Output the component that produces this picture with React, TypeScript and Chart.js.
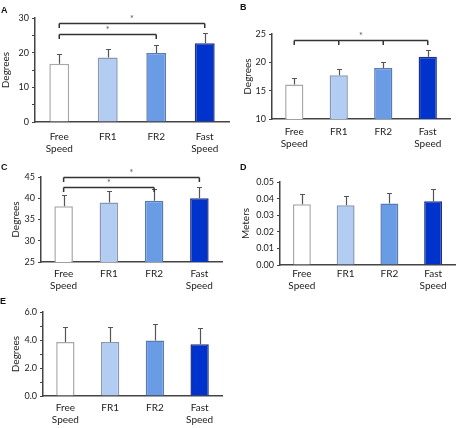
import React, { useEffect, useRef } from "react";
import { Chart, registerables } from "chart.js";

Chart.register(...registerables);

const categories: (string | string[])[] = [["Free", "Speed"], "FR1", "FR2", ["Fast", "Speed"]];

const barFills = ["#ffffff", "#b3cdf2", "#6a9ce6", "#0033cc"];
const barBorders = ["#a8a8a8", "#8898b4", "#5a7ab4", "#1c3088"];

// Panel A – Degrees
const meansA = [16.8, 18.6, 19.9, 22.7];
const errA = [2.8, 2.6, 2.4, 3.1];
const bracketsA = [
  { from: 0, to: 3, value: 28.6, ticks: [0, 3] },
  { from: 0, to: 2, value: 25.5, ticks: [0, 2] },
];

// Panel B – Degrees
const meansB = [16.1, 17.7, 19.0, 21.0];
const errB = [1.2, 1.1, 1.0, 1.2];
const bracketsB = [{ from: 0, to: 3, value: 24.0, ticks: [0, 1, 2, 3] }];

// Panel C – Degrees
const meansC = [38.1, 39.0, 39.4, 40.0];
const errC = [2.6, 2.7, 2.8, 2.7];
const bracketsC = [
  { from: 0, to: 3, value: 45.1, ticks: [0, 3] },
  { from: 0, to: 2, value: 42.6, ticks: [0, 2] },
];

// Panel D – Meters
const meansD = [0.0366, 0.036, 0.037, 0.0384];
const errD = [0.0064, 0.0056, 0.0066, 0.0072];

// Panel E – Degrees
const meansE = [3.86, 3.86, 3.96, 3.7];
const errE = [1.07, 1.07, 1.21, 1.18];

type Bracket = { from: number; to: number; value: number; ticks: number[] };

type PanelCfg = {
  letter: string;
  letterX: number;
  letterY: number;
  left: number;
  top: number;
  w: number;
  h: number;
  padTop: number;
  padRight: number;
  yWidth: number;
  xHeight: number;
  xPad: number;
  titlePad: number;
  title: string;
  min: number;
  max: number;
  step: number;
  labelStep: number;
  decimals: number;
  means: number[];
  errs: number[];
  brackets: Bracket[];
};

const FONT = "Lato, 'Liberation Sans', sans-serif";

const panels: PanelCfg[] = [
  {
    letter: "A", letterX: 1, letterY: 5,
    left: 0, top: 0, w: 232, h: 160, padTop: 18, padRight: 3, yWidth: 35, xHeight: 38, xPad: 9, titlePad: 0,
    title: "Degrees", min: 0, max: 30, step: 5, labelStep: 10, decimals: 0,
    means: meansA, errs: errA, brackets: bracketsA,
  },
  {
    letter: "B", letterX: 240, letterY: 2,
    left: 228, top: 0, w: 228, h: 160, padTop: 34, padRight: 6, yWidth: 44, xHeight: 41, xPad: 7, titlePad: 14,
    title: "Degrees", min: 10, max: 25, step: 5, labelStep: 5, decimals: 0,
    means: meansB, errs: errB, brackets: bracketsB,
  },
  {
    letter: "C", letterX: 1, letterY: 162,
    left: 0, top: 145, w: 232, h: 148, padTop: 32, padRight: 10, yWidth: 41, xHeight: 31, xPad: 6, titlePad: 10,
    title: "Degrees", min: 25, max: 45, step: 5, labelStep: 5, decimals: 0,
    means: meansC, errs: errC, brackets: bracketsC,
  },
  {
    letter: "D", letterX: 240, letterY: 162,
    left: 228, top: 145, w: 228, h: 148, padTop: 37, padRight: 1, yWidth: 52, xHeight: 28, xPad: 3, titlePad: 12,
    title: "Meters", min: 0, max: 0.05, step: 0.01, labelStep: 0.01, decimals: 2,
    means: meansD, errs: errD, brackets: [],
  },
  {
    letter: "E", letterX: 0, letterY: 296,
    left: 0, top: 290, w: 232, h: 138, padTop: 22, padRight: 10, yWidth: 43, xHeight: 32, xPad: 6, titlePad: 10,
    title: "Degrees", min: 0, max: 6, step: 1, labelStep: 2, decimals: 1,
    means: meansE, errs: errE, brackets: [],
  },
];

function Panel({ cfg }: { cfg: PanelCfg }) {
  const ref = useRef<HTMLCanvasElement | null>(null);

  useEffect(() => {
    if (!ref.current) return;
    const overlay = {
      id: "overlay",
      afterDatasetsDraw(chart: any) {
        const ctx = chart.ctx as CanvasRenderingContext2D;
        const ys = chart.scales.y;
        const meta = chart.getDatasetMeta(0);
        ctx.save();
        // error bars
        ctx.strokeStyle = "#555";
        ctx.lineWidth = 1.2;
        meta.data.forEach((bar: any, i: number) => {
          const x = Math.round(bar.x) + 0.5;
          const y0 = ys.getPixelForValue(cfg.means[i]);
          const y1 = Math.round(ys.getPixelForValue(cfg.means[i] + cfg.errs[i])) + 0.5;
          ctx.beginPath();
          ctx.moveTo(x, y0);
          ctx.lineTo(x, y1);
          ctx.moveTo(x - 2.5, y1);
          ctx.lineTo(x + 2.5, y1);
          ctx.stroke();
        });
        // significance brackets
        cfg.brackets.forEach((b) => {
          const yb = Math.round(ys.getPixelForValue(b.value)) + 0.5;
          const xa = meta.data[b.from].x;
          const xb = meta.data[b.to].x;
          ctx.strokeStyle = "#333";
          ctx.lineWidth = 1.5;
          ctx.beginPath();
          ctx.moveTo(xa, yb);
          ctx.lineTo(xb, yb);
          b.ticks.forEach((t) => {
            const xt = meta.data[t].x;
            ctx.moveTo(xt, yb);
            ctx.lineTo(xt, yb + 4.5);
          });
          ctx.stroke();
          ctx.fillStyle = "#555";
          ctx.font = `9px ${FONT}`;
          ctx.textAlign = "center";
          ctx.textBaseline = "middle";
          ctx.fillText("*", (xa + xb) / 2, yb - 4);
        });
        ctx.restore();
      },
    };

    const isLabeled = (v: number) => {
      const r = v / cfg.labelStep;
      return Math.abs(r - Math.round(r)) < 1e-6;
    };

    const chart = new Chart(ref.current, {
      type: "bar",
      data: {
        labels: categories,
        datasets: [
          {
            data: cfg.means,
            backgroundColor: barFills,
            borderColor: barBorders,
            borderWidth: 1.5,
            barPercentage: 0.41,
            categoryPercentage: 1,
          },
        ],
      },
      options: {
        animation: false,
        responsive: false,
        devicePixelRatio: 1,
        layout: { padding: { left: 0, top: cfg.padTop, right: cfg.padRight, bottom: 0 } },
        plugins: { legend: { display: false }, tooltip: { enabled: false }, title: { display: false } },
        scales: {
          x: {
            offset: true,
            grid: { display: false, drawTicks: false, tickLength: 0 },
            border: { display: true, color: "#444", width: 1.5 },
            ticks: {
              padding: cfg.xPad,
              color: "#222",
              font: { family: FONT, size: 10, lineHeight: 1.2 },
              maxRotation: 0,
              autoSkip: false,
            },
            afterFit: (s: any) => {
              s.height = cfg.xHeight;
            },
          },
          y: {
            min: cfg.min,
            max: cfg.max,
            grid: { drawOnChartArea: false, drawTicks: true, tickLength: 3, color: "#444", lineWidth: 1 },
            border: { display: true, color: "#444", width: 1.5 },
            ticks: {
              stepSize: cfg.step,
              autoSkip: false,
              padding: 3,
              color: "#222",
              font: { family: FONT, size: 9 },
              callback: (v: any) => (isLabeled(Number(v)) ? Number(v).toFixed(cfg.decimals) : ""),
            },
            title: {
              display: true,
              text: cfg.title,
              color: "#222",
              font: { family: FONT, size: 10, lineHeight: 1.2 },
              padding: { top: cfg.titlePad, bottom: 0 },
            },
            afterFit: (s: any) => {
              s.width = cfg.yWidth;
            },
          },
        },
      },
      plugins: [overlay],
    } as any);

    return () => chart.destroy();
  }, [cfg]);

  return (
    <>
      <canvas
        ref={ref}
        width={cfg.w}
        height={cfg.h}
        style={{ position: "absolute", left: cfg.left, top: cfg.top, width: cfg.w, height: cfg.h, display: "block" }}
      />
      <div
        style={{
          position: "absolute",
          left: cfg.letterX,
          top: cfg.letterY,
          font: `bold 9px 'Liberation Sans', Arial, sans-serif`,
          lineHeight: "10px",
          color: "#111",
        }}
      >
        {cfg.letter}
      </div>
    </>
  );
}

export default function App() {
  return (
    <div style={{ position: "absolute", left: 0, top: 0, width: 456, height: 428, background: "#fff", overflow: "hidden" }}>
      {panels.map((p) => (
        <Panel key={p.letter} cfg={p} />
      ))}
    </div>
  );
}
